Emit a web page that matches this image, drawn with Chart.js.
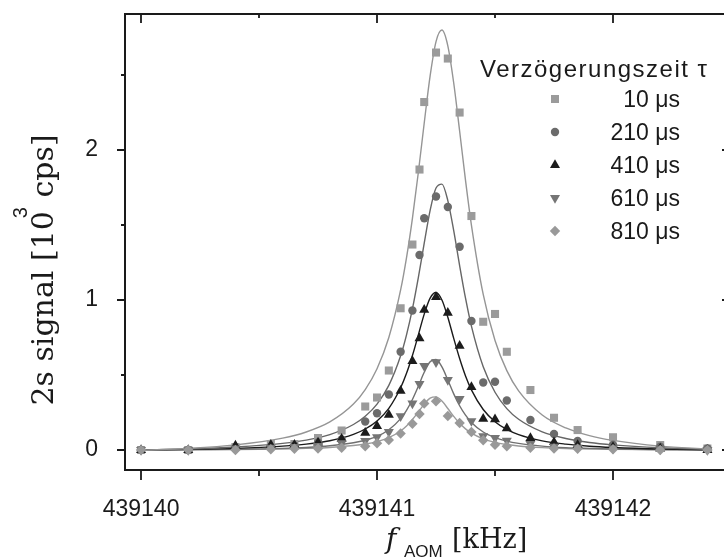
<!DOCTYPE html>
<html>
<head>
<meta charset="utf-8">
<script src="https://cdn.jsdelivr.net/npm/chart.js@4.4.1/dist/chart.umd.min.js"></script>
<style>
html, body { margin: 0; padding: 0; background: #fff; overflow: hidden; }
#wrap { width: 740px; height: 559px; }
</style>
</head>
<body>
<div id="wrap"><canvas id="signal" width="740" height="559"></canvas></div>

<script>
// messpunkte: frequenz [kHz], signal [10^3 cps]
var freq = [439140.00, 439140.20, 439140.40, 439140.55, 439140.65, 439140.75, 439140.85,
	439140.95, 439141.00, 439141.05, 439141.10, 439141.15, 439141.18, 439141.20,
	439141.25, 439141.30, 439141.35, 439141.40, 439141.45, 439141.50, 439141.55,
	439141.65, 439141.75, 439141.85, 439142.00, 439142.20, 439142.40];

var tau10  = [0.00, 0.00, 0.02, 0.04, 0.04, 0.08, 0.13, 0.29, 0.35, 0.53, 0.945, 1.37, 1.87, 2.32,
	2.65, 2.61, 2.25, 1.56, 0.855, 0.907, 0.655, 0.40, 0.215, 0.133, 0.085, 0.033, 0.01];
var tau210 = [0.00, 0.00, 0.01, 0.02, 0.03, 0.05, 0.07, 0.19, 0.245, 0.37, 0.655, 0.93, 1.30, 1.545,
	1.69, 1.62, 1.355, 0.86, 0.45, 0.455, 0.33, 0.20, 0.107, 0.06, 0.035, 0.022, 0.01];
var tau410 = [0.00, 0.00, 0.03, 0.035, 0.035, 0.05, 0.075, 0.115, 0.16, 0.235, 0.395, 0.593, 0.745, 0.935,
	1.02, 0.915, 0.695, 0.42, 0.208, 0.205, 0.145, 0.08, 0.052, 0.033, 0.02, 0.01, 0.00];
var tau610 = [0.00, 0.00, 0.01, 0.015, 0.02, 0.027, 0.045, 0.06, 0.085, 0.12, 0.225, 0.31, 0.44, 0.56,
	0.585, 0.467, 0.34, 0.193, 0.092, 0.08, 0.063, 0.04, 0.022, 0.015, 0.01, 0.005, 0.00];
var tau810 = [0.00, 0.00, 0.00, 0.005, 0.008, 0.01, 0.015, 0.025, 0.045, 0.067, 0.11, 0.175, 0.24, 0.31,
	0.325, 0.227, 0.18, 0.12, 0.065, 0.035, 0.025, 0.015, 0.01, 0.008, 0.005, 0.00, 0.00];

// fitkurven
var fitFreq = [439140.00, 439140.20, 439140.40, 439140.60, 439140.70, 439140.80, 439140.90,
	439140.95, 439141.00, 439141.05, 439141.10, 439141.125, 439141.15, 439141.175, 439141.20,
	439141.225, 439141.25, 439141.275, 439141.30, 439141.325, 439141.35, 439141.375, 439141.40,
	439141.45, 439141.50, 439141.55, 439141.60, 439141.70, 439141.80, 439141.90, 439142.00,
	439142.20, 439142.40];

var fit10  = [-0.002, 0.011, 0.034, 0.079, 0.120, 0.187, 0.306, 0.403, 0.542, 0.750, 1.067, 1.283,
	1.545, 1.850, 2.180, 2.494, 2.723, 2.800, 2.695, 2.447, 2.127, 1.798, 1.500, 1.037, 0.730,
	0.529, 0.394, 0.233, 0.147, 0.096, 0.064, 0.026, 0.007];
var fit210 = [0.000, 0.007, 0.020, 0.044, 0.066, 0.103, 0.170, 0.225, 0.306, 0.431, 0.628, 0.768,
	0.941, 1.149, 1.379, 1.598, 1.747, 1.773, 1.663, 1.462, 1.230, 1.012, 0.826, 0.555, 0.385,
	0.276, 0.205, 0.121, 0.077, 0.050, 0.034, 0.015, 0.005];
var fit410 = [0.000, 0.004, 0.011, 0.026, 0.039, 0.062, 0.104, 0.140, 0.194, 0.278, 0.415, 0.511,
	0.630, 0.767, 0.906, 1.013, 1.050, 1.000, 0.885, 0.744, 0.610, 0.494, 0.401, 0.270, 0.189,
	0.137, 0.102, 0.061, 0.039, 0.025, 0.017, 0.007, 0.002];
var fit610 = [0.000, 0.002, 0.005, 0.011, 0.017, 0.028, 0.048, 0.065, 0.091, 0.135, 0.209, 0.265,
	0.337, 0.425, 0.518, 0.588, 0.603, 0.554, 0.467, 0.374, 0.295, 0.232, 0.184, 0.120, 0.083,
	0.059, 0.044, 0.026, 0.016, 0.011, 0.007, 0.003, 0.000];
var fit810 = [0.000, 0.001, 0.003, 0.007, 0.011, 0.017, 0.030, 0.040, 0.056, 0.083, 0.127, 0.160,
	0.203, 0.254, 0.306, 0.346, 0.354, 0.326, 0.277, 0.224, 0.178, 0.141, 0.112, 0.074, 0.051,
	0.037, 0.027, 0.016, 0.010, 0.007, 0.004, 0.002, 0.000];

var xTickLabels = ['439140', '439141', '439142'];
var yTickLabels = ['0', '1', '2'];
var legendTitle = 'Verzögerungszeit τ';
var legendLabels = ['10 μs', '210 μs', '410 μs', '610 μs', '810 μs'];
</script>

<script>
function pts(xs, ys) {
	return xs.map(function(x, i) { return {x: x, y: ys[i]}; });
}

function isWhole(v) {
	return Math.abs(v - Math.round(v)) < 1e-6;
}

var SANS = '"Liberation Sans", Arial, sans-serif';
var SERIF = '"DejaVu Serif", serif';

function markSet(label, values, style, radius, rotation, color, order) {
	return {
		label: label,
		data: pts(freq, values),
		pointStyle: style,
		pointRadius: radius,
		pointRotation: rotation,
		pointBackgroundColor: color,
		pointBorderColor: color,
		pointBorderWidth: 0,
		showLine: false,
		order: order
	};
}

function fitSet(values, color) {
	return {
		data: pts(fitFreq, values),
		showLine: true,
		pointRadius: 0,
		borderColor: color,
		borderWidth: 1.4,
		cubicInterpolationMode: 'monotone',
		fill: false,
		order: 10
	};
}

var marks = [
	markSet(legendLabels[0], tau10,  'rect',     5.7, 0,   '#9b9b9b', 5),
	markSet(legendLabels[1], tau210, 'circle',   4.2, 0,   '#6b6b6b', 4),
	markSet(legendLabels[2], tau410, 'triangle', 5.8, 0,   '#1c1c1c', 3),
	markSet(legendLabels[3], tau610, 'triangle', 5.8, 180, '#757575', 2),
	markSet(legendLabels[4], tau810, 'rectRot',  5.2, 0,   '#999999', 1)
];

var fits = [
	fitSet(fit10,  '#959595'),
	fitSet(fit210, '#666666'),
	fitSet(fit410, '#1a1a1a'),
	fitSet(fit610, '#707070'),
	fitSet(fit810, '#9a9a9a')
];

// rahmen, ticks, achsentitel, legende
var framePlugin = {
	id: 'frame',
	afterDraw: function(chart) {
		var ctx = chart.ctx;
		var a = chart.chartArea;
		var xs = chart.scales.x, ys = chart.scales.y;

		ctx.save();
		ctx.strokeStyle = '#1a1a1a';
		ctx.lineWidth = 2;
		ctx.strokeRect(a.left, a.top, a.right - a.left, a.bottom - a.top);

		ctx.lineWidth = 1.8;
		ctx.beginPath();
		xs.ticks.forEach(function(t) {
			var px = Math.round(xs.getPixelForValue(t.value));
			if (px <= a.left + 1 || px >= a.right - 1) return;
			var major = isWhole(t.value);
			ctx.moveTo(px, a.bottom); ctx.lineTo(px, a.bottom + (major ? 10 : 6));
			ctx.moveTo(px, a.top); ctx.lineTo(px, a.top + (major ? 9 : 4));
		});
		ys.ticks.forEach(function(t) {
			var py = Math.round(ys.getPixelForValue(t.value));
			if (py <= a.top + 1 || py >= a.bottom - 1) return;
			var major = isWhole(t.value);
			ctx.moveTo(a.left, py); ctx.lineTo(a.left - (major ? 8 : 4), py);
			ctx.moveTo(a.right, py); ctx.lineTo(a.right - (major ? 9 : 4), py);
		});
		ctx.stroke();

		ctx.fillStyle = '#1a1a1a';
		ctx.textBaseline = 'alphabetic';

		// y titel
		ctx.save();
		ctx.translate(53, 270);
		ctx.rotate(-Math.PI / 2);
		ctx.font = '30px ' + SERIF;
		var p1 = '2s signal [10', p3 = ' cps]';
		var w1 = ctx.measureText(p1).width, w3 = ctx.measureText(p3).width;
		ctx.font = '20px ' + SANS;
		var w2 = ctx.measureText('3').width;
		var total = w1 + w2 - 7 + w3;
		var sx = -total / 2;
		ctx.font = '30px ' + SERIF;
		ctx.textAlign = 'left';
		ctx.fillText(p1, sx, 0);
		ctx.fillText(p3, sx + w1 + w2 - 7, 0);
		ctx.font = '20px ' + SANS;
		ctx.fillText('3', sx + w1 - 7, -26);
		ctx.restore();

		// x titel
		ctx.textAlign = 'left';
		ctx.font = 'italic 28px ' + SERIF;
		ctx.fillText('f', 386, 548);
		ctx.font = '17px ' + SANS;
		ctx.fillText('AOM', 404, 557);
		ctx.font = '27px ' + SERIF;
		ctx.fillText('[kHz]', 452, 548);

		// legende
		ctx.font = '24px ' + SANS;
		ctx.letterSpacing = '1.5px';
		ctx.fillText(legendTitle, 480, 77);
		ctx.letterSpacing = '0px';
		ctx.font = '23px ' + SANS;
		ctx.textAlign = 'right';
		chart.data.datasets.forEach(function(ds, i) {
			if (!ds.label) return;
			var y = 99 + i * 33;
			ctx.fillStyle = ds.pointBackgroundColor;
			ctx.strokeStyle = ds.pointBorderColor;
			Chart.helpers.drawPoint(ctx, {
				pointStyle: ds.pointStyle,
				rotation: ds.pointRotation,
				radius: ds.pointRadius,
				borderWidth: 0
			}, 555, y);
			ctx.fillStyle = '#1a1a1a';
			ctx.fillText(ds.label, 680, y + 8);
		});
		ctx.restore();
	}
};

var chart = new Chart(document.getElementById('signal'), {
	type: 'scatter',
	data: { datasets: marks.concat(fits) },
	options: {
		responsive: false,
		animation: false,
		layout: { padding: { left: 0, right: 9, top: 14, bottom: 0 } },
		plugins: {
			legend: { display: false },
			tooltip: { enabled: false }
		},
		scales: {
			x: {
				type: 'linear',
				min: 439139.932,
				max: 439142.5,
				afterFit: function(scale) { scale.height = 89; },
				// tickLength nur als abstand fuer die beschriftung, striche zeichnet das plugin
				grid: { display: false, drawTicks: true, tickLength: 26 },
				border: { display: false },
				ticks: {
					stepSize: 0.5,
					includeBounds: false,
					autoSkip: false,
					maxRotation: 0,
					padding: 0,
					color: '#1a1a1a',
					font: { family: SANS, size: 23 },
					callback: function(v) {
						if (!isWhole(v)) return '';
						var k = Math.round(v) - 439140;
						return xTickLabels[k] || '';
					}
				}
			},
			y: {
				min: -0.1333,
				max: 2.907,
				afterFit: function(scale) { scale.width = 125; },
				grid: { display: false, drawTicks: true, tickLength: 27 },
				border: { display: false },
				ticks: {
					stepSize: 0.5,
					includeBounds: false,
					padding: 0,
					color: '#1a1a1a',
					font: { family: SANS, size: 23 },
					callback: function(v) {
						if (!isWhole(v)) return '';
						return yTickLabels[Math.round(v)] || '';
					}
				}
			}
		}
	},
	plugins: [framePlugin]
});
</script>
</body>
</html>
